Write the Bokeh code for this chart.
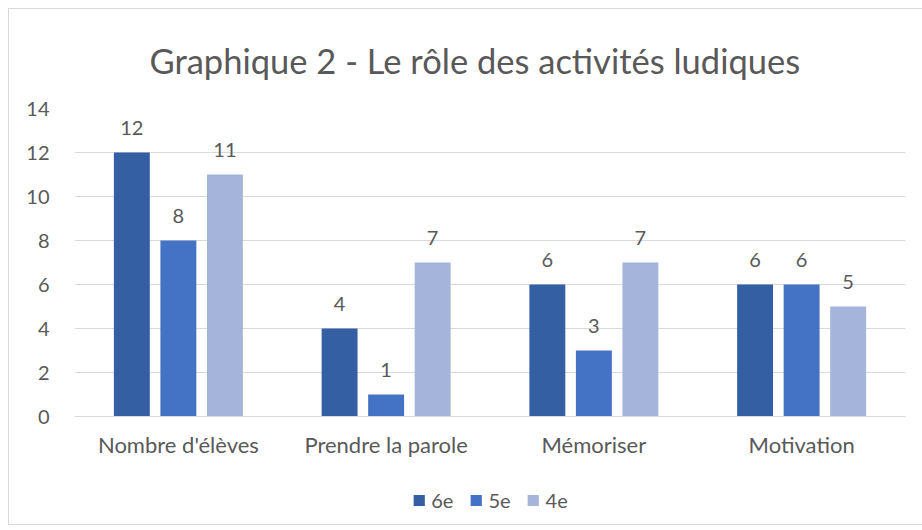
from bokeh.plotting import figure
from bokeh.models import ColumnDataSource, FactorRange, Legend, LegendItem, LabelSet
from bokeh.core.properties import value
from bokeh.layouts import column
from bokeh.transform import dodge
from bokeh.embed import file_html
from bokeh.resources import INLINE

categories = ["Nombre d'élèves", "Prendre la parole", "Mémoriser", "Motivation"]
series_names = ["6e", "5e", "4e"]
v6e = [12, 4, 6, 6]
v5e = [8, 1, 3, 6]
v4e = [11, 7, 7, 5]
y_ticks = [0, 2, 4, 6, 8, 10, 12, 14]

colors = ["#355FA3", "#4472C4", "#A5B4DA"]
TXT = "#595959"
FONT = "Lato"

src = ColumnDataSource(dict(cat=categories, s6=v6e, s5=v5e, s4=v4e,
                            l6=[str(v) for v in v6e], l5=[str(v) for v in v5e], l4=[str(v) for v in v4e]))

p = figure(x_range=FactorRange(*categories, range_padding=0), y_range=(0, 14),
           frame_width=831, frame_height=308, output_backend="svg", toolbar_location=None,
           min_border_left=65, min_border_right=18, min_border_top=99, min_border_bottom=60)
p.outline_line_color = None

p.title.text = "Graphique 2 - Le rôle des activités ludiques"
p.title.align = "left"
p.title.offset = 75
p.title.standoff = 55
p.title.text_font = FONT
p.title.text_font_size = "34.5px"
p.title.text_font_style = "normal"
p.title.text_color = TXT

offsets = [-0.224, 0.0, 0.224]
keys = ["s6", "s5", "s4"]
lkeys = ["l6", "l5", "l4"]
for k, lk, off, c in zip(keys, lkeys, offsets, colors):
    p.vbar(x=dodge("cat", off, range=p.x_range), top=k, width=0.173, source=src,
           fill_color=c, line_color=None)
    p.add_layout(LabelSet(x=dodge("cat", off, range=p.x_range), y=k, text=lk, source=src,
                          text_align="center", text_baseline="alphabetic", y_offset=18,
                          text_font=value(FONT), text_font_size="20px", text_color=TXT))

p.yaxis.ticker = y_ticks
p.yaxis.axis_line_color = None
p.yaxis.major_tick_line_color = None
p.yaxis.minor_tick_line_color = None
p.yaxis.major_label_text_font = FONT
p.yaxis.major_label_text_font_size = "20px"
p.yaxis.major_label_text_color = TXT
p.yaxis.major_label_standoff = 19

p.xaxis.axis_line_color = "#D9D9D9"
p.xaxis.major_tick_line_color = None
p.xaxis.minor_tick_line_color = None
p.xaxis.major_label_text_font = FONT
p.xaxis.major_label_text_font_size = "22px"
p.xaxis.major_label_text_color = TXT
p.xaxis.major_label_standoff = 8

p.xgrid.grid_line_color = None
p.ygrid.grid_line_color = "#D9D9D9"
p.ygrid.ticker = y_ticks

# legend strip (zero-height proxy bars only carry the legend swatches)
leg = figure(width=914, height=48, x_range=(0, 1), y_range=(0, 1), output_backend="svg",
             toolbar_location=None, min_border=0)
leg.axis.visible = False
leg.grid.visible = False
leg.outline_line_color = None
proxy = ColumnDataSource(dict(x=[0.5], top=[0]))
leg_renderers = [leg.vbar(x="x", top="top", width=0.1, source=proxy, fill_color=c, line_color=None)
                 for c in colors]
legend = Legend(items=[LegendItem(label=n, renderers=[r]) for n, r in zip(series_names, leg_renderers)],
                orientation="horizontal", location="center",
                glyph_width=14, glyph_height=14, label_standoff=6, spacing=15,
                label_text_font=FONT, label_text_font_size="20px", label_text_color=TXT,
                border_line_color=None, background_fill_alpha=0, padding=0, margin=0)
leg.add_layout(legend)

layout = column(p, leg, spacing=0)
layout.margin = (8, 0, 0, 8)
layout.styles = {"border": "1px solid #D9D9D9"}

open("out.html", "w").write(file_html(layout, INLINE))
